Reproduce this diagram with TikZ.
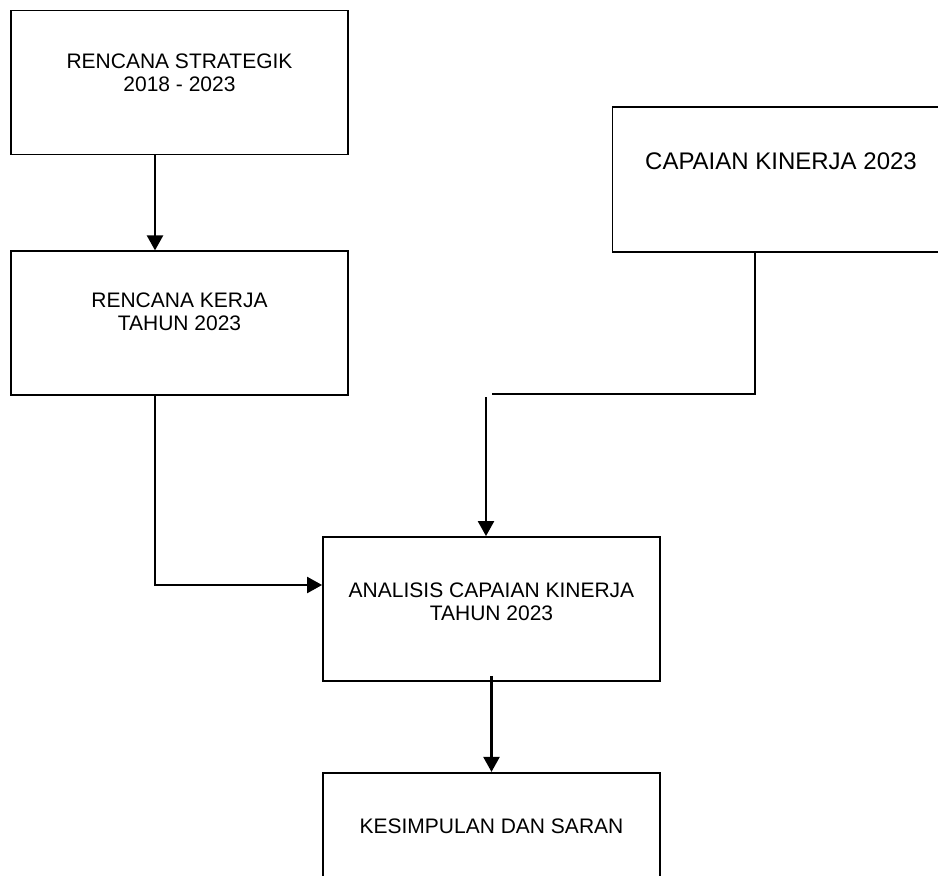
\documentclass[tikz,border=0pt]{standalone}
\usepackage{fontspec}
\setmainfont{Liberation Sans}
\usepackage{tikz}
\usetikzlibrary{calc,arrows.meta}
\usetikzlibrary{positioning}
\tikzstyle{block} = [rectangle, minimum width=337pt, minimum height=144pt, inner sep=0pt, draw=black, line width=1.8pt]
\tikzstyle{boxtext} = [align=center, font=\fontsize{21pt}{23.3pt}\selectfont]
\tikzstyle{arrow} = [line width=2.3pt,-{Triangle[length=15pt,width=16pt]}]
\tikzstyle{link} = [line width=2.3pt]

\begin{document}
\begin{tikzpicture}[x=1pt, y=-1pt]
    \useasboundingbox (0,0) rectangle (938,876);
    \clip (0,0) rectangle (938,876);

    \node (renstra) [block, label={[boxtext, yshift=9.5pt]center:{RENCANA STRATEGIK\\2018 - 2023}}] at (179.5,82.5) {};
    \node (renja) [block, below=95pt of renstra, label={[boxtext, yshift=11.5pt]center:{RENCANA KERJA\\TAHUN 2023}}] {};
    \node (capaian) [block, minimum height=145pt, label={[boxtext, font=\fontsize{24pt}{27pt}\selectfont, yshift=18.5pt]center:{CAPAIAN KINERJA 2023}}] at (781,179.5) {};
    \node (analisis) [block, label={[boxtext, yshift=7pt]center:{ANALISIS CAPAIAN KINERJA\\TAHUN 2023}}] at (491.5,609) {};
    \node (kesimpulan) [block, below=90pt of analisis, label={[boxtext, yshift=18.5pt]center:{KESIMPULAN DAN SARAN}}] {};

    \draw [arrow] ([xshift=-24.5pt]renstra.south) -- ([xshift=-24.5pt]renja.north);
    \draw [arrow] ([xshift=-24.5pt]renja.south) |- ([yshift=24pt]analisis.west);

    \coordinate (bend) at (492,394);
    \coordinate (drop) at (486,397);
    \draw [link] ([xshift=-26pt]capaian.south) |- (bend);
    \draw [arrow] (drop) -- (drop |- analisis.north);

    \draw [arrow] ([yshift=6pt]analisis.south) -- (kesimpulan.north);
\end{tikzpicture}
\end{document}
